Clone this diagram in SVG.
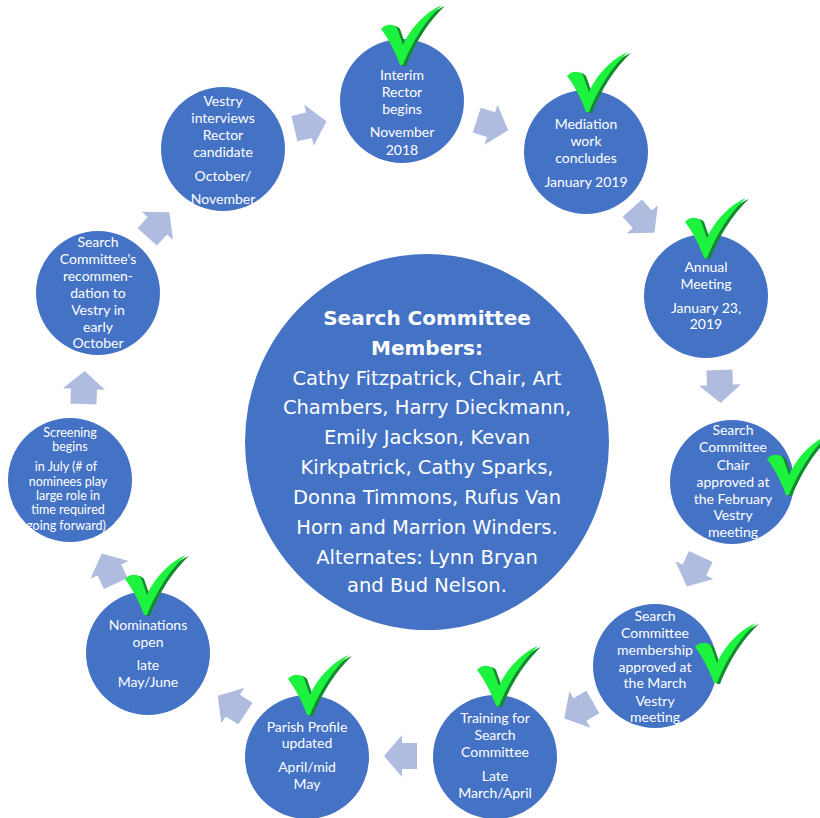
<svg xmlns="http://www.w3.org/2000/svg" xmlns:xlink="http://www.w3.org/1999/xlink" width="820" height="818" viewBox="0 0 820 818">
<style>
.node circle, .node ellipse { fill: #4472C4; }
.t { font-family: Lato, "Open Sans", sans-serif; font-size: 14px; fill: #FFFFFF; text-anchor: middle; }
.ts { font-size: 12.5px; }
.c { font-family: "DejaVu Sans", Verdana, sans-serif; font-size: 19.5px; fill: #FFFFFF; text-anchor: middle; }
.cb { font-weight: bold; font-size: 20px; }
.arrow { fill: #AFBCDF; }
</style>
<defs>
  <path id="arr" d="M-16,-13 L-1,-13 L-1,-21 L17,0 L-1,21 L-1,13 L-16,13 Z"/>
  <g id="check">
    <path d="M0,24 C4,19 12,18 16,23 L22,40 C30,22 46,6 61,0 C50,10 34,30 22,60 L19,60 C14,46 7,33 0,24 Z" fill="#138A2F" transform="translate(3,1)"/>
    <path d="M0,24 C4,19 12,18 16,23 L22,40 C30,22 46,6 61,0 C50,10 34,30 22,60 L19,60 C14,46 7,33 0,24 Z" fill="#1DF23E"/>
  </g>
</defs>
<rect width="820" height="818" fill="#FFFFFF"/>

<g id="connectors">
  <use xlink:href="#arr" class="arrow" transform="translate(310,125) rotate(-13)"/>
  <use xlink:href="#arr" class="arrow" transform="translate(492,125) rotate(18)"/>
  <use xlink:href="#arr" class="arrow" transform="translate(643,220) rotate(48)"/>
  <use xlink:href="#arr" class="arrow" transform="translate(720,386) rotate(88)"/>
  <use xlink:href="#arr" class="arrow" transform="translate(694,571) rotate(115)"/>
  <use xlink:href="#arr" class="arrow" transform="translate(579,710) rotate(150)"/>
  <use xlink:href="#arr" class="arrow" transform="translate(401,756) rotate(180)"/>
  <use xlink:href="#arr" class="arrow" transform="translate(232,705) rotate(213)"/>
  <use xlink:href="#arr" class="arrow" transform="translate(109,569) rotate(245)"/>
  <use xlink:href="#arr" class="arrow" transform="translate(84,388) rotate(272)"/>
  <use xlink:href="#arr" class="arrow" transform="translate(158,225) rotate(-48)"/>
</g>

<g id="center" class="node">
  <ellipse cx="427" cy="442" rx="182" ry="188"/>
  <text class="c cb" x="427" y="325">Search Committee</text>
  <text class="c cb" x="427" y="355">Members:</text>
  <text class="c" x="427" y="385">Cathy Fitzpatrick, Chair, Art</text>
  <text class="c" x="427" y="414">Chambers, Harry Dieckmann,</text>
  <text class="c" x="427" y="444">Emily Jackson, Kevan</text>
  <text class="c" x="427" y="474">Kirkpatrick, Cathy Sparks,</text>
  <text class="c" x="427" y="504">Donna Timmons, Rufus Van</text>
  <text class="c" x="427" y="534">Horn and Marrion Winders.</text>
  <text class="c" x="427" y="564">Alternates: Lynn Bryan</text>
  <text class="c" x="427" y="592">and Bud Nelson.</text>
</g>

<g id="interim" class="node">
  <circle cx="402" cy="101" r="62"/>
  <text class="t" x="402" y="80">Interim</text>
  <text class="t" x="402" y="97">Rector</text>
  <text class="t" x="402" y="114">begins</text>
  <text class="t" x="402" y="137">November</text>
  <text class="t" x="402" y="155">2018</text>
  <use xlink:href="#check" transform="translate(381,5)"/>
</g>

<g id="mediation" class="node">
  <circle cx="586" cy="152" r="62"/>
  <text class="t" x="586" y="129">Mediation</text>
  <text class="t" x="586" y="146">work</text>
  <text class="t" x="586" y="163">concludes</text>
  <text class="t" x="586" y="187">January 2019</text>
  <use xlink:href="#check" transform="translate(567,52)"/>
</g>

<g id="annual" class="node">
  <circle cx="706" cy="296" r="62"/>
  <text class="t" x="706" y="272">Annual</text>
  <text class="t" x="706" y="289">Meeting</text>
  <text class="t" x="706" y="313">January 23,</text>
  <text class="t" x="706" y="329">2019</text>
  <use xlink:href="#check" transform="translate(685,198)"/>
</g>

<g id="chair" class="node">
  <circle cx="732" cy="482" r="62"/>
  <text class="t" x="733" y="435">Search</text>
  <text class="t" x="733" y="452">Committee</text>
  <text class="t" x="733" y="470">Chair</text>
  <text class="t" x="733" y="487">approved at</text>
  <text class="t" x="733" y="504">the February</text>
  <text class="t" x="733" y="520">Vestry</text>
  <text class="t" x="733" y="537">meeting</text>
  <use xlink:href="#check" transform="translate(767,435)"/>
</g>

<g id="membership" class="node">
  <circle cx="655" cy="666" r="62"/>
  <text class="t" x="655" y="621">Search</text>
  <text class="t" x="655" y="638">Committee</text>
  <text class="t" x="655" y="655">membership</text>
  <text class="t" x="655" y="672">approved at</text>
  <text class="t" x="655" y="688">the March</text>
  <text class="t" x="655" y="706">Vestry</text>
  <text class="t" x="655" y="722">meeting</text>
  <use xlink:href="#check" transform="translate(695,623)"/>
</g>

<g id="training" class="node">
  <circle cx="495" cy="757" r="62"/>
  <text class="t" x="495" y="723">Training for</text>
  <text class="t" x="495" y="740">Search</text>
  <text class="t" x="495" y="757">Committee</text>
  <text class="t" x="495" y="781">Late</text>
  <text class="t" x="495" y="798">March/April</text>
  <use xlink:href="#check" transform="translate(477,646)"/>
</g>

<g id="parish" class="node">
  <circle cx="307" cy="757" r="62"/>
  <text class="t" x="307" y="732">Parish Profile</text>
  <text class="t" x="307" y="748">updated</text>
  <text class="t" x="307" y="772">April/mid</text>
  <text class="t" x="307" y="789">May</text>
  <use xlink:href="#check" transform="translate(288,655)"/>
</g>

<g id="nominations" class="node">
  <circle cx="148" cy="653" r="62"/>
  <text class="t" x="148" y="630">Nominations</text>
  <text class="t" x="148" y="647">open</text>
  <text class="t" x="148" y="670">late</text>
  <text class="t" x="148" y="687">May/June</text>
  <use xlink:href="#check" transform="translate(125,555)"/>
</g>

<g id="screening" class="node">
  <circle cx="70" cy="480" r="62"/>
  <text class="t ts" x="70" y="437">Screening</text>
  <text class="t ts" x="70" y="451">begins</text>
  <text class="t ts" x="66" y="471">in July (# of</text>
  <text class="t ts" x="68" y="486">nominees play</text>
  <text class="t ts" x="68" y="500">large role in</text>
  <text class="t ts" x="68" y="514">time required</text>
  <text class="t ts" x="66" y="530">going forward)</text>
</g>

<g id="recommendation" class="node">
  <circle cx="98" cy="293" r="62"/>
  <text class="t" x="98" y="247">Search</text>
  <text class="t" x="98" y="264">Committee's</text>
  <text class="t" x="98" y="281">recommen-</text>
  <text class="t" x="98" y="298">dation to</text>
  <text class="t" x="98" y="315">Vestry in</text>
  <text class="t" x="98" y="332">early</text>
  <text class="t" x="98" y="348">October</text>
</g>

<g id="vestry" class="node">
  <circle cx="223" cy="149" r="62"/>
  <text class="t" x="223" y="106">Vestry</text>
  <text class="t" x="223" y="123">interviews</text>
  <text class="t" x="223" y="140">Rector</text>
  <text class="t" x="223" y="157">candidate</text>
  <text class="t" x="223" y="181">October/</text>
  <text class="t" x="223" y="204">November</text>
</g>
</svg>
